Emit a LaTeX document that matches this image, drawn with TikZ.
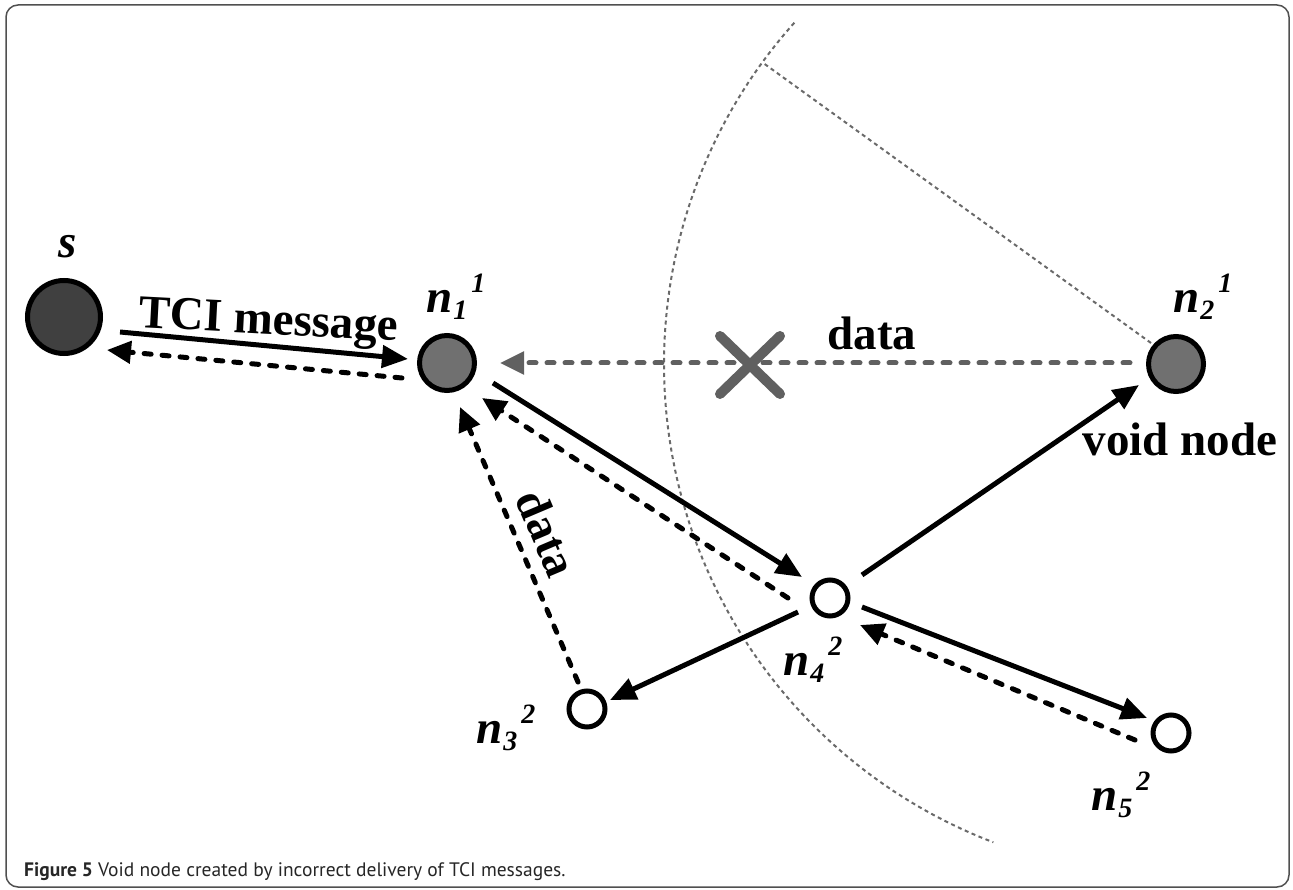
\documentclass[tikz,border=0pt]{standalone}
\usepackage{fontspec}
\setmainfont{Liberation Serif}
\newfontfamily\capfont{PT Sans}
\usetikzlibrary{arrows.meta,calc}
\definecolor{darkfill}{HTML}{404040}
\definecolor{midfill}{HTML}{707070}
\definecolor{grayarrow}{HTML}{606060}
\definecolor{dotgray}{HTML}{6A6A6A}
\definecolor{framegray}{HTML}{505050}
\newcommand{\nlab}[2]{\textbf{\textit{n}}\kern1pt\raisebox{-7pt}{\fontsize{28}{28}\selectfont\itshape #1}\kern4pt\raisebox{20pt}{\fontsize{28}{28}\selectfont\itshape #2}}
\tikzset{
  bignode/.style={circle, draw=black, line width=5pt, inner sep=0pt, minimum size=#1},
  smallnode/.style={circle, draw=black, line width=5pt, fill=white, inner sep=0pt, minimum size=36pt},
  lbl/.style={font=\fontsize{47}{47}\selectfont\bfseries, inner sep=0pt},
  solidarrow/.style={line width=5pt, -{Triangle[length=26pt,width=22pt]}},
  dasharrow/.style={line width=5pt, line cap=round, dash pattern=on 7pt off 11pt, -{Triangle[length=24pt,width=22pt]}},
  grayarr/.style={draw=grayarrow, line width=5pt, line cap=round, dash pattern=on 7pt off 11pt, -{Triangle[length=24pt,width=22pt,fill=grayarrow]}},
  thindot/.style={draw=dotgray, line width=2pt, dash pattern=on 4pt off 3.5pt},
}
\begin{document}
\begin{tikzpicture}[x=1pt,y=-1pt]
\useasboundingbox (0,0) rectangle (1293,890);
% frame
\draw[framegray, line width=1.5pt, rounded corners=12pt] (6,5) rectangle (1289,887);

% nodes
\node[bignode=73pt, fill=darkfill] (s) at (64,317) {};
\node[bignode=55pt, fill=midfill] (n1) at (447,363) {};
\node[bignode=55pt, fill=midfill] (n2) at (1176,364) {};
\node[smallnode] (n4) at (830,598) {};
\node[smallnode] (n3) at (587,709) {};
\node[smallnode] (n5) at (1171,733) {};

% range arc and radius (centered at n2)
\path (n2.center) ++(221.8:512) coordinate (arcstart);
\path (n2.center) ++(216.1:512) coordinate (rtop);
\draw[thindot] (arcstart) arc[start angle=221.8, end angle=110.9, radius=512];
\coordinate (rbot) at (1151,343);
\draw[thindot] (rbot) -- (rtop);

% labels
\node[lbl, anchor=base] (ls) at (68,258) {\textit{s}};
\node[lbl, anchor=base west] (l1) at (426,313) {\nlab{1}{1}};
\node[lbl, anchor=base west] (l2) at (1173,313) {\nlab{2}{1}};
\node[lbl, anchor=base west] (l4) at (783,675) {\nlab{4}{2}};
\node[lbl, anchor=base west] (l3) at (476,743) {\nlab{3}{2}};
\node[lbl, anchor=base west] (l5) at (1091,810) {\nlab{5}{2}};
\node[lbl, anchor=base, rotate=-3] (tci) at (268,334) {TCI message};
\node[lbl, anchor=base] (dtop) at (872,350) {data};
\node[lbl, rotate=-67] (dside) at (547,533) {data};
\node[lbl, anchor=base] (void) at (1180,455) {void node};

% connector endpoints
\coordinate (a1) at (120,332); \coordinate (b1) at (408,359);
\coordinate (a2) at (402,378); \coordinate (b2) at (107,350);
\coordinate (a3) at (1130,363); \coordinate (b3) at (500,363);
\coordinate (a5) at (493,383); \coordinate (b5) at (802,577);
\coordinate (a6) at (788,598); \coordinate (b6) at (482,398);
\coordinate (a7) at (578,682); \coordinate (b7) at (460,407);
\coordinate (a8) at (798,612); \coordinate (b8) at (610,700);
\coordinate (a9) at (862,575); \coordinate (b9) at (1139,385);
\coordinate (a10) at (862,607); \coordinate (b10) at (1147,718);
\coordinate (a11) at (1135,740); \coordinate (b11) at (860,625);

\draw[solidarrow] (a1) -- (b1);
\draw[dasharrow] (a2) -- (b2);
\draw[grayarr] (a3) -- (b3);
\draw[solidarrow] (a5) -- (b5);
\draw[dasharrow] (a6) -- (b6);
\draw[dasharrow] (a7) -- (b7);
\draw[solidarrow] (a8) -- (b8);
\draw[solidarrow] (a9) -- (b9);
\draw[solidarrow] (a10) -- (b10);
\draw[dasharrow] (a11) -- (b11);

% cross
\coordinate (xm) at (750,365);
\draw[grayarrow, line width=10pt, line cap=round] ($(xm)+(-30,-29)$) -- ($(xm)+(30,29)$);
\draw[grayarrow, line width=10pt, line cap=round] ($(xm)+(-30,29)$) -- ($(xm)+(30,-29)$);

% caption
\node[anchor=base west, inner sep=0pt, font=\capfont\fontsize{19.5}{19.5}\selectfont, text=black!85] (cap) at (24,876) {\textbf{Figure 5} Void node created by incorrect delivery of TCI messages.};
\end{tikzpicture}
\end{document}
